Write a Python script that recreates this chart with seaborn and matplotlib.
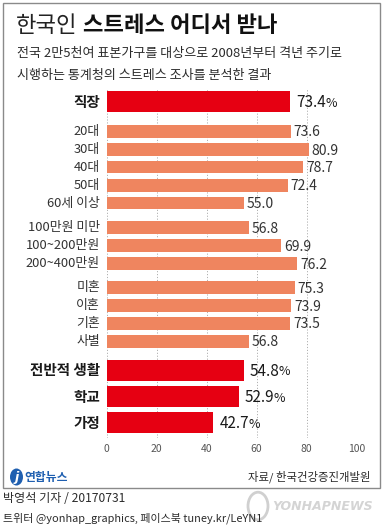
import matplotlib
matplotlib.use("Agg")
import matplotlib.pyplot as plt
from matplotlib.patches import Rectangle, Ellipse, Circle
import numpy as np
import pandas as pd
import seaborn as sns

# data
labels = ["직장", "20대", "30대", "40대", "50대", "60세 이상",
          "100만원 미만", "100~200만원", "200~400만원",
          "미혼", "이혼", "기혼", "사별",
          "전반적 생활", "학교", "가정"]
values = [73.4, 73.6, 80.9, 78.7, 72.4, 55.0,
          56.8, 69.9, 76.2,
          75.3, 73.9, 73.5, 56.8,
          54.8, 52.9, 42.7]
is_main = [True] + [False] * 12 + [True, True, True]
x_ticks = [0, 20, 40, 60, 80, 100]

# layout: bar centres in pixel rows of the 383x528 picture
row_y = [101.7, 131.3, 149.5, 167.0, 185.3, 203.0,
         227.8, 245.7, 263.7,
         287.5, 305.5, 323.3, 341.3,
         370.0, 396.7, 422.8]

W, H = 383, 528
RED = "#e60012"
ORANGE = "#ef855f"
DARK = "#2b2b2b"

df = pd.DataFrame({"label": labels, "value": values, "y": row_y, "main": is_main})

sns.set_style("white")
plt.rcParams["font.family"] = ["Noto Sans CJK KR", "DejaVu Sans"]

fig = plt.figure(figsize=(W / 100, H / 100), dpi=100)


def fx(x):
    return x / W


def fy(y):
    return 1 - y / H


# axes: x=0 at px 106.5, x=100 at px 356.5, rows from px 88 to 438
ax = fig.add_axes([fx(106.5), fy(438), 250 / W, 350 / H])


def bar_width(sub, px_height):
    ys = np.sort(sub["y"].to_numpy())
    return px_height / np.min(np.diff(ys))


minor = df[~df["main"]]
major = df[df["main"]]
sns.barplot(data=minor, x="value", y="y", orient="y", native_scale=True,
            color=ORANGE, saturation=1, errorbar=None, linewidth=0,
            width=bar_width(minor, 12.7), ax=ax)
sns.barplot(data=major, x="value", y="y", orient="y", native_scale=True,
            color=RED, saturation=1, errorbar=None, linewidth=0,
            width=bar_width(major, 21), ax=ax)

ax.set_xlim(0, 100)
ax.set_ylim(438, 88)
ax.set_xticks(x_ticks)
ax.set_xticklabels([str(t) for t in x_ticks])
ax.set_yticks([])
ax.set_xlabel("")
ax.set_ylabel("")
for s in ax.spines.values():
    s.set_visible(False)
ax.tick_params(axis="x", length=0, pad=4, labelsize=7.5, labelcolor="#555555")
ax.set_axisbelow(True)
ax.xaxis.grid(True, color="#b0b0b0", linewidth=0.7, linestyle=(0, (1.2, 1.8)))
ax.yaxis.grid(False)

renderer = fig.canvas.get_renderer()

# category labels and value labels
for _, r in df.iterrows():
    if r["main"]:
        ax.text(-2.6, r["y"], r["label"], ha="right", va="center",
                fontsize=10.5, fontweight="bold", color="#1a1a1a", clip_on=False)
        num = ax.text(r["value"] + 2.4, r["y"] + 1, f"{r['value']:.1f}", ha="left", va="center",
                      fontsize=11, color="#1a1a1a", clip_on=False)
        bb = num.get_window_extent(renderer)
        x_end = ax.transData.inverted().transform((bb.x1, bb.y0))[0]
        ax.text(x_end - 0.3, r["y"] + 1.5, "%", ha="left", va="center",
                fontsize=9, color="#1a1a1a", clip_on=False)
    else:
        ax.text(-2.6, r["y"], r["label"], ha="right", va="center",
                fontsize=9.3, color="#333333", clip_on=False)
        ax.text(r["value"] + 1.2, r["y"] + 1, f"{r['value']:.1f}", ha="left", va="center",
                fontsize=10, color="#333333", clip_on=False)

# frame
fig.patches.append(Rectangle((fx(3), fy(488)), 377 / W, 485 / H, transform=fig.transFigure,
                             fill=False, edgecolor="#8a8a8a", linewidth=1))

# title and subtitle
fig.text(fx(16), fy(25), "한국인", fontsize=16, color="#222222", va="center")
fig.text(fx(83), fy(25), "스트레스 어디서 받나", fontsize=16, fontweight="bold",
         color="#111111", va="center")
fig.text(fx(17), fy(53.5), "전국 2만5천여 표본가구를 대상으로 2008년부터 격년 주기로",
         fontsize=9.4, color=DARK, va="center")
fig.text(fx(17), fy(75.5), "시행하는 통계청의 스트레스 조사를 분석한 결과",
         fontsize=9.4, color=DARK, va="center")

# footer inside frame
fig.patches.append(Ellipse((fx(16.5), fy(477)), 13 / W, 17 / H, transform=fig.transFigure,
                           facecolor="#1f5fb0", edgecolor="none"))
fig.text(fx(16.5), fy(477), "j", fontsize=9, fontweight="bold", style="italic",
         color="white", ha="center", va="center", family="DejaVu Sans")
fig.text(fx(24), fy(477), "연합뉴스", fontsize=8.5, fontweight="bold", color="#1f5fb0", va="center")
fig.text(fx(370), fy(477), "자료/ 한국건강증진개발원", fontsize=8.2, color=DARK,
         ha="right", va="center")

# credits below frame
fig.text(fx(3), fy(498), "박영석 기자 / 20170731", fontsize=8.7, color=DARK, va="center")
fig.text(fx(3), fy(518), "트위터 @yonhap_graphics, 페이스북 tuney.kr/LeYN1", fontsize=7.9,
         color=DARK, va="center")

# watermark
fig.patches.append(Circle((fx(258), fy(506)), 10 / W, transform=fig.transFigure,
                          fill=False, edgecolor="#d0d0d0", linewidth=2))
fig.text(fx(272), fy(506), "YONHAPNEWS", fontsize=9, fontweight="bold", style="italic",
         color="#d4d4d4", va="center", family="DejaVu Sans")

fig.savefig("out.png", dpi=100)
plt.close(fig)
